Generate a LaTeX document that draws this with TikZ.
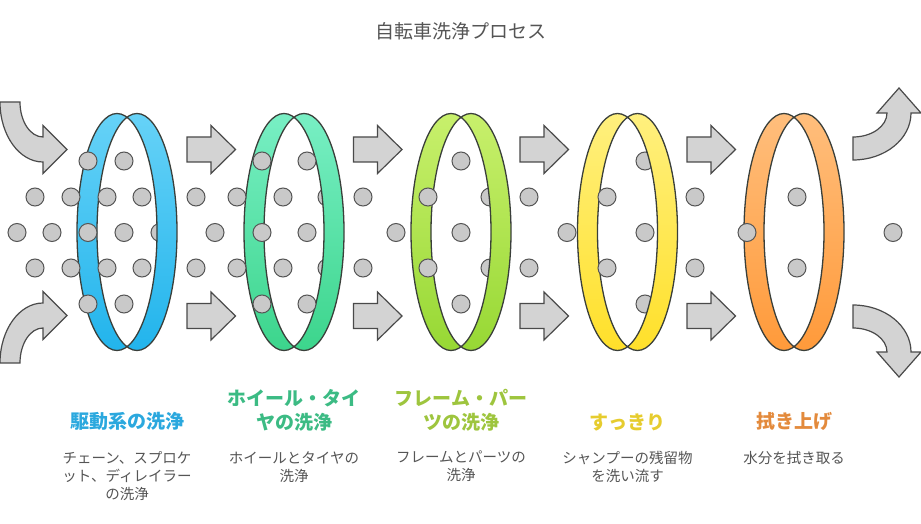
\documentclass[tikz,border=0pt]{standalone}
\usepackage{fontspec}
\newfontfamily\cjk{Noto Sans CJK JP}
\definecolor{dotfill}{HTML}{C9C9C9}
\definecolor{dotline}{HTML}{555555}
\definecolor{arrfill}{HTML}{D3D3D3}
\definecolor{arrline}{HTML}{4A4A4A}
\definecolor{ringline}{HTML}{3A3F3A}
\definecolor{descc}{HTML}{555555}
\definecolor{r1t}{HTML}{66D2F7}\definecolor{r1b}{HTML}{22B4EC}
\definecolor{r2t}{HTML}{78EFC4}\definecolor{r2b}{HTML}{3CD58C}
\definecolor{r3t}{HTML}{C8F06C}\definecolor{r3b}{HTML}{97D834}
\definecolor{r4t}{HTML}{FFF07E}\definecolor{r4b}{HTML}{FFE02A}
\definecolor{r5t}{HTML}{FFBE7C}\definecolor{r5b}{HTML}{FF9A3A}
\definecolor{c1}{HTML}{2BA8DE}
\definecolor{c2}{HTML}{3CBB84}
\definecolor{c3}{HTML}{9EC53E}
\definecolor{c4}{HTML}{E6CC2E}
\definecolor{c5}{HTML}{E38A3C}
\begin{document}
\begin{tikzpicture}[x=1pt,y=-1pt,
  dot/.style={circle,draw=dotline,fill=dotfill,line width=1pt,minimum size=18pt,inner sep=0pt},
  garrow/.style={draw=arrline,fill=arrfill,line width=1.2pt,line join=miter},
  ringband/.style={draw=ringline,line width=1.3pt,even odd rule},
  ttl/.style={font=\cjk\bfseries\fontsize{19}{24}\selectfont,align=center,anchor=south,inner sep=0pt},
  desc/.style={font=\cjk\fontsize{14.5}{18}\selectfont,text=descc,align=center,anchor=north,inner sep=0pt}]
\useasboundingbox (0,0) rectangle (921,524);
\clip (0,0) rectangle (921,524);

\node[font=\cjk\fontsize{19}{22}\selectfont,text=descc] (title) at (461,31) {自転車洗浄プロセス};

% dots behind the front bands
\foreach \x/\y [count=\i] in {160/232.5,327/197,327/268,490/197,490/268,645/161,645/304}
  \node[dot] (b\i) at (\x,\y) {};

% rings
\foreach \cx/\ct/\cb [count=\i] in {127/r1t/r1b,294/r2t/r2b,461/r3t/r3b,627.5/r4t/r4b,794/r5t/r5b}
  \path[ringband,top color=\ct,bottom color=\cb]
    (\cx-10,232) ellipse [x radius=40pt,y radius=118.5pt]
    (\cx+10,232) ellipse [x radius=40pt,y radius=118.5pt];

% dots in front
\foreach \x/\y [count=\i] in {
  88/161,124/161,262/161,307/161,461/161,
  88/304,124/304,262/304,307/304,461/304,
  35/197,71/197,107/197,142/197,196/197,237/197,283/197,363/197,428/197,529/197,607/197,695/197,797/197,
  35/268,71/268,107/268,142/268,196/268,237/268,283/268,363/268,428/268,529/268,607/268,695/268,797/268,
  17/232.5,52/232.5,88/232.5,124/232.5,215/232.5,262/232.5,307/232.5,396/232.5,461/232.5,567/232.5,645/232.5,747/232.5,893/232.5}
  \node[dot] (f\i) at (\x,\y) {};

% straight block arrows
\foreach \x in {187,353.5,520,687}{
  \draw[garrow] (\x,137) -- (\x+24,137) -- (\x+24,125.5) -- (\x+48.5,149.5) -- (\x+24,173.5) -- (\x+24,162) -- (\x,162) -- cycle;
  \draw[garrow] (\x,303.5) -- (\x+24,303.5) -- (\x+24,292) -- (\x+48.5,316) -- (\x+24,340) -- (\x+24,328.5) -- (\x,328.5) -- cycle;
}

% curved arrows, left
\draw[garrow] (0,102) -- (20,102) arc[start angle=180,end angle=270,x radius=23pt,y radius=35pt]
  -- (43,125.5) -- (67,149.5) -- (43,173.5) -- (43,162)
  arc[start angle=270,end angle=180,x radius=43pt,y radius=60pt] -- cycle;
\draw[garrow] (0,363) -- (20,363) arc[start angle=180,end angle=90,x radius=23pt,y radius=35pt]
  -- (43,339.5) -- (67,315.5) -- (43,291.5) -- (43,303)
  arc[start angle=90,end angle=180,x radius=43pt,y radius=60pt] -- cycle;

% curved arrows, right
\draw[garrow] (853,137) arc[start angle=270,end angle=360,x radius=34pt,y radius=24pt]
  -- (877,113) -- (899,88) -- (921,113) -- (911,113)
  arc[start angle=0,end angle=-90,x radius=58pt,y radius=47pt] -- cycle;
\draw[garrow] (853,328) arc[start angle=90,end angle=0,x radius=34pt,y radius=24pt]
  -- (877,352) -- (899,377) -- (921,352) -- (911,352)
  arc[start angle=0,end angle=90,x radius=58pt,y radius=47pt] -- cycle;

% titles
\node[ttl,text=c1] (t1) at (127,431) {駆動系の洗浄};
\node[ttl,text=c2] (t2) at (294,431) {ホイール・タイ\\ヤの洗浄};
\node[ttl,text=c3] (t3) at (461,431) {フレーム・パー\\ツの洗浄};
\node[ttl,text=c4] (t4) at (627.5,431) {すっきり};
\node[ttl,text=c5] (t5) at (794,431) {拭き上げ};

% descriptions
\node[desc] (d1) at (127,451) {チェーン、スプロケ\\ット、ディレイラー\\の洗浄};
\node[desc] (d2) at (294,451) {ホイールとタイヤの\\洗浄};
\node[desc] (d3) at (461,451) {フレームとパーツの\\洗浄};
\node[desc] (d4) at (627.5,451) {シャンプーの残留物\\を洗い流す};
\node[desc] (d5) at (794,451) {水分を拭き取る};
\end{tikzpicture}
\end{document}
